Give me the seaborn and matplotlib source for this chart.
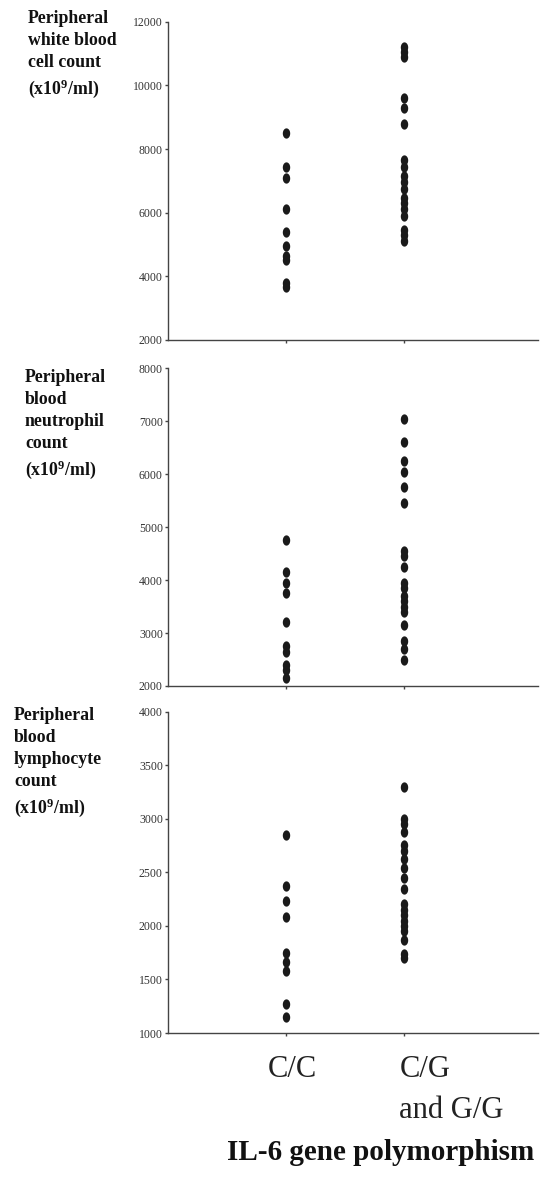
import numpy as np
import pandas as pd
import matplotlib
matplotlib.use("Agg")
import matplotlib.pyplot as plt
from matplotlib.path import Path
import matplotlib.transforms as mtransforms
import seaborn as sns

# ---------------- data ----------------
groups = ["C/C", "C/G\nand G/G"]

wbc_cc = [8500, 7450, 7100, 6100, 5400, 4950, 4650, 4500, 3800, 3650]
wbc_cg = [11200, 11050, 10900, 9600, 9300, 8800, 7650, 7450, 7150, 6950,
          6750, 6450, 6300, 6100, 5900, 5450, 5300, 5100]

neu_cc = [4750, 4150, 3950, 3750, 3200, 2750, 2650, 2400, 2300, 2150]
neu_cg = [7050, 6600, 6250, 6050, 5750, 5450, 4550, 4450, 4250, 3950,
          3850, 3700, 3600, 3500, 3400, 3150, 2850, 2700, 2500]

lym_cc = [2850, 2370, 2230, 2080, 1750, 1660, 1580, 1270, 1150]
lym_cg = [3300, 3000, 2950, 2880, 2760, 2700, 2620, 2540, 2450, 2340,
          2200, 2150, 2100, 2050, 2000, 1950, 1870, 1740, 1700]

ylabels = ["Peripheral\nwhite blood\ncell count\n(x10$^9$/ml)",
           "Peripheral\nblood\nneutrophil\ncount\n(x10$^9$/ml)",
           "Peripheral\nblood\nlymphocyte\ncount\n(x10$^9$/ml)"]
yticks = [[2000, 4000, 6000, 8000, 10000, 12000],
          [2000, 3000, 4000, 5000, 6000, 7000, 8000],
          [1000, 1500, 2000, 2500, 3000, 3500, 4000]]
xlabel = "IL-6 gene polymorphism"

# ---------------- style ----------------
sns.set_style("ticks")
plt.rcParams["font.family"] = ["Liberation Serif", "DejaVu Serif"]
plt.rcParams["mathtext.fontset"] = "custom"
plt.rcParams["mathtext.rm"] = "Liberation Serif:bold"
plt.rcParams["mathtext.bf"] = "Liberation Serif:bold"
plt.rcParams["mathtext.it"] = "Liberation Serif:bold:italic"

W, H = 546, 1181
fig = plt.figure(figsize=(W / 100, H / 100), dpi=100)
fig.patch.set_facecolor("white")

# vertical ellipse marker
th = np.linspace(0, 2 * np.pi, 60)
ell = Path(np.column_stack([0.72 * np.cos(th), np.sin(th)]), closed=True)

panels = [(wbc_cc, wbc_cg), (neu_cc, neu_cg), (lym_cc, lym_cg)]
# axes boxes in pixels: (top, bottom)
boxes = [(21.7, 340), (368.3, 686), (711.7, 1033)]
left_px, right_px = 168, 538
label_pos = [(28, 10), (25, 369), (14, 707)]

ink = "#1a1a1a"
axcol = "#444444"

for i, ((cc, cg), (top, bot)) in enumerate(zip(panels, boxes)):
    ax = fig.add_axes([left_px / W, 1 - bot / H, (right_px - left_px) / W, (bot - top) / H])
    df = pd.DataFrame({
        "group": [groups[0]] * len(cc) + [groups[1]] * len(cg),
        "value": cc + cg,
    })
    sns.stripplot(data=df, x="group", y="value", order=groups, jitter=False,
                  color=ink, marker=ell, size=7.4, linewidth=0, ax=ax)
    ax.set_xlim(-1.0, 2.13)
    ax.set_ylim(yticks[i][0], yticks[i][-1])
    ax.set_yticks(yticks[i])
    ax.set_yticklabels([str(t) for t in yticks[i]])
    ax.set_xticks([0, 1])
    ax.set_xticklabels(["", ""])
    ax.set_xlabel("")
    ax.set_ylabel("")
    sns.despine(ax=ax)
    for s in ["left", "bottom"]:
        ax.spines[s].set_color(axcol)
        ax.spines[s].set_linewidth(1.0)
    ax.tick_params(axis="y", length=2.5, width=1.0, color=axcol, pad=1.2,
                   labelsize=8.5, labelcolor="#333333")
    ax.tick_params(axis="x", length=2.0, width=1.0, color=axcol, direction="out")
    ax.set_facecolor("white")

    fig.text(label_pos[i][0] / W, 1 - label_pos[i][1] / H, ylabels[i],
             ha="left", va="top", fontsize=12.8, fontweight="bold",
             color="#111111", linespacing=1.38)

    if i == 2:
        trans = mtransforms.blended_transform_factory(ax.transData, ax.transAxes)
        off1 = mtransforms.ScaledTranslation(6 / 100, -22 / 100, fig.dpi_scale_trans)
        off2 = mtransforms.ScaledTranslation(-5 / 100, -22 / 100, fig.dpi_scale_trans)
        ax.text(0, 0, groups[0], transform=trans + off1, ha="center", va="top",
                fontsize=22, color="#222222")
        ax.text(1, 0, groups[1], transform=trans + off2, ha="left", va="top",
                fontsize=22, color="#222222", linespacing=1.55)

fig.text(381 / W, 1 - 1160 / H, xlabel, ha="center", va="baseline",
         fontsize=21, fontweight="bold", color="#111111")

fig.savefig("out.png", dpi=100, facecolor="white")
